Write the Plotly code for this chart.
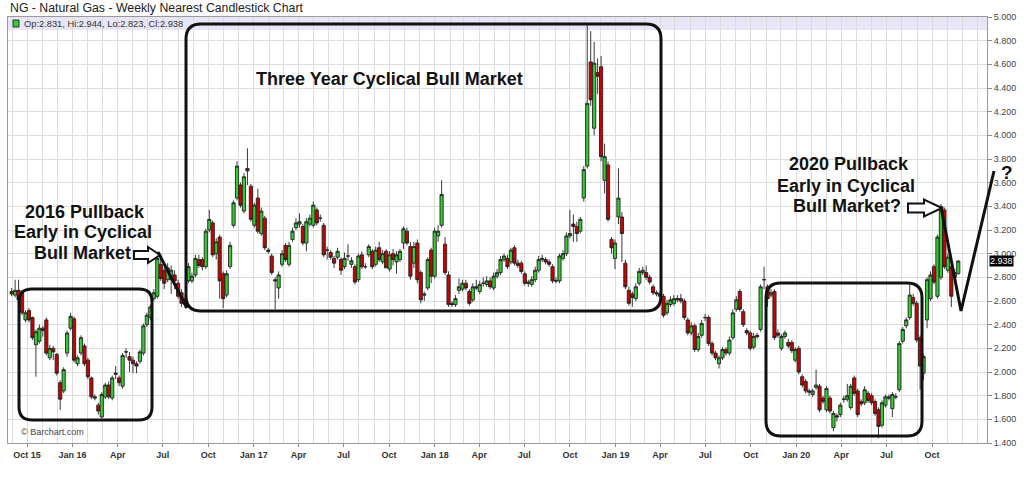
import plotly.graph_objects as go
import pandas as pd
from datetime import datetime, timedelta

TITLE = "NG - Natural Gas - Weekly Nearest Candlestick Chart"
FIRST_WEEK = "2015-08-31"

OPEN = [
    2.68, 2.65, 2.69, 2.67, 2.44, 2.52, 2.46, 2.23, 2.26, 2.37,
    2.44, 2.12, 2.20, 2.15, 1.91, 1.84, 2.16, 2.37, 2.45, 2.07,
    2.16, 2.22, 2.10, 1.95, 1.79, 1.72, 1.62, 1.79, 1.89, 1.78,
    1.98, 1.95, 1.88, 2.17, 2.13, 2.10, 2.07, 2.09, 2.16, 2.40,
    2.46, 2.62, 2.64, 2.91, 2.86, 2.78, 2.78, 2.82, 2.75, 2.67,
    2.62, 2.77, 2.77, 2.82, 2.95, 2.95, 2.89, 3.20, 3.26, 3.00,
    3.14, 2.83, 2.65, 2.89, 3.24, 3.47, 3.58, 3.36, 3.72, 3.57,
    3.24, 3.47, 3.17, 3.30, 3.03, 2.98, 2.78, 2.71, 2.91, 3.07,
    2.91, 3.12, 3.22, 3.25, 3.23, 3.09, 3.25, 3.24, 3.37, 3.30,
    3.24, 3.03, 3.01, 2.96, 2.97, 2.95, 2.89, 2.98, 2.91, 2.89,
    2.78, 2.99, 2.89, 2.99, 3.02, 2.91, 3.05, 2.93, 3.02, 2.87,
    3.00, 2.93, 2.95, 3.09, 3.19, 3.06, 2.92, 3.09, 2.84, 2.66,
    2.71, 3.03, 2.81, 3.15, 3.24, 3.08, 2.82, 2.58, 2.57, 2.69,
    2.70, 2.75, 2.68, 2.61, 2.72, 2.68, 2.75, 2.74, 2.77, 2.71,
    2.81, 2.84, 2.95, 2.96, 2.93, 3.05, 2.92, 2.92, 2.83, 2.76,
    2.74, 2.78, 2.86, 2.95, 2.95, 2.93, 2.89, 2.77, 2.77, 2.96,
    3.00, 3.15, 3.25, 3.23, 3.19, 3.47, 3.74, 4.62, 4.06, 4.53,
    4.58, 3.62, 3.75, 3.12, 2.96, 3.31, 3.31, 2.92, 2.69, 2.66,
    2.62, 2.75, 2.84, 2.84, 2.80, 2.72, 2.67, 2.66, 2.64, 2.50,
    2.57, 2.58, 2.61, 2.62, 2.60, 2.44, 2.33, 2.39, 2.19, 2.31,
    2.46, 2.46, 2.24, 2.16, 2.07, 2.12, 2.19, 2.16, 2.29, 2.53,
    2.68, 2.51, 2.35, 2.33, 2.21, 2.31, 2.36, 2.78, 2.72, 2.65,
    2.68, 2.33, 2.20, 2.30, 2.25, 2.25, 2.10, 2.20, 1.96, 1.92,
    1.84, 1.81, 1.87, 1.88, 1.78, 1.68, 1.78, 1.53, 1.63, 1.64,
    1.77, 1.77, 1.70, 1.95, 1.84, 1.75, 1.74, 1.82, 1.80, 1.75,
    1.68, 1.55, 1.72, 1.79, 1.69, 1.79, 1.85, 2.26, 2.39, 2.46,
    2.63, 2.58, 2.29, 1.99, 2.44, 2.62, 2.89, 2.64, 2.80, 3.37,
    2.86, 2.89, 2.80, 2.831,
]
HIGH = [
    2.71, 2.78, 2.78, 2.69, 2.52, 2.54, 2.47, 2.36, 2.40, 2.39,
    2.46, 2.23, 2.22, 2.16, 1.93, 2.04, 2.35, 2.50, 2.47, 2.14,
    2.31, 2.24, 2.12, 1.96, 1.81, 1.74, 1.83, 1.91, 1.92, 1.97,
    2.05, 1.97, 2.16, 2.20, 2.17, 2.13, 2.09, 2.19, 2.41, 2.50,
    2.57, 2.70, 2.99, 2.98, 2.90, 2.92, 2.90, 2.86, 2.78, 2.70,
    2.65, 2.92, 2.84, 2.99, 2.99, 2.97, 3.21, 3.37, 3.28, 3.13,
    3.16, 2.85, 2.86, 3.10, 3.45, 3.78, 3.60, 3.68, 3.89, 3.59,
    3.43, 3.55, 3.39, 3.32, 3.05, 3.00, 2.80, 2.85, 3.03, 3.09,
    3.10, 3.22, 3.30, 3.34, 3.25, 3.30, 3.33, 3.44, 3.39, 3.33,
    3.26, 3.06, 3.03, 2.98, 3.05, 2.97, 3.01, 3.08, 2.97, 2.91,
    3.00, 3.02, 2.92, 3.08, 3.04, 3.06, 3.10, 3.03, 3.04, 3.02,
    3.04, 3.02, 3.04, 3.23, 3.22, 3.10, 3.10, 3.12, 2.86, 2.68,
    2.97, 3.05, 3.22, 3.24, 3.62, 3.14, 2.85, 2.60, 2.65, 2.79,
    2.78, 2.78, 2.70, 2.75, 2.78, 2.77, 2.80, 2.81, 2.80, 2.84,
    2.87, 2.98, 3.00, 2.99, 3.05, 3.07, 2.95, 2.94, 2.85, 2.78,
    2.81, 2.89, 2.98, 2.99, 2.97, 2.95, 2.91, 2.80, 3.00, 3.03,
    3.18, 3.37, 3.33, 3.27, 3.31, 3.74, 4.93, 4.88, 4.79, 4.65,
    4.67, 3.93, 3.78, 3.14, 3.12, 3.72, 3.35, 2.95, 2.72, 2.68,
    2.75, 2.88, 2.89, 2.90, 2.82, 2.74, 2.69, 2.68, 2.66, 2.61,
    2.64, 2.65, 2.65, 2.66, 2.62, 2.46, 2.42, 2.41, 2.33, 2.44,
    2.49, 2.48, 2.26, 2.18, 2.14, 2.21, 2.21, 2.30, 2.53, 2.64,
    2.70, 2.53, 2.37, 2.35, 2.33, 2.33, 2.74, 2.89, 2.74, 2.70,
    2.70, 2.36, 2.32, 2.35, 2.28, 2.27, 2.21, 2.22, 1.98, 1.94,
    1.86, 1.86, 2.02, 1.90, 1.80, 1.88, 1.80, 1.67, 1.65, 1.74,
    1.80, 1.90, 1.90, 1.97, 1.86, 1.77, 1.88, 1.84, 1.82, 1.77,
    1.70, 1.76, 1.81, 1.81, 1.83, 1.82, 2.26, 2.38, 2.46, 2.74,
    2.66, 2.60, 2.31, 2.15, 2.80, 2.85, 2.91, 3.16, 3.42, 3.39,
    3.00, 2.91, 2.87, 2.944,
]
LOW = [
    2.64, 2.63, 2.59, 2.48, 2.42, 2.42, 2.27, 1.96, 2.24, 2.30,
    2.14, 2.10, 2.10, 1.97, 1.68, 1.82, 2.13, 2.35, 2.08, 2.05,
    2.14, 2.05, 1.94, 1.77, 1.76, 1.64, 1.61, 1.77, 1.77, 1.76,
    1.94, 1.88, 1.86, 2.12, 2.00, 1.99, 1.99, 2.07, 2.14, 2.38,
    2.44, 2.60, 2.62, 2.77, 2.70, 2.76, 2.66, 2.70, 2.62, 2.55,
    2.54, 2.75, 2.75, 2.80, 2.88, 2.86, 2.87, 3.18, 2.97, 2.95,
    2.62, 2.54, 2.63, 2.87, 3.22, 3.45, 3.39, 3.34, 3.58, 3.27,
    3.22, 3.17, 3.15, 3.03, 3.00, 2.82, 2.53, 2.62, 2.89, 2.93,
    2.89, 3.10, 3.20, 3.22, 3.07, 3.02, 3.23, 3.22, 3.24, 3.27,
    2.97, 2.95, 2.95, 2.88, 2.95, 2.82, 2.87, 2.94, 2.88, 2.74,
    2.76, 2.87, 2.87, 2.97, 2.87, 2.89, 2.93, 2.91, 2.88, 2.85,
    2.90, 2.83, 2.93, 3.04, 3.07, 2.78, 2.88, 2.75, 2.58, 2.60,
    2.69, 2.75, 2.79, 3.10, 3.22, 2.82, 2.55, 2.55, 2.55, 2.66,
    2.68, 2.69, 2.56, 2.59, 2.69, 2.66, 2.72, 2.72, 2.70, 2.69,
    2.79, 2.82, 2.93, 2.87, 2.91, 2.90, 2.88, 2.83, 2.73, 2.72,
    2.72, 2.76, 2.84, 2.93, 2.91, 2.89, 2.75, 2.75, 2.75, 2.94,
    2.98, 3.13, 3.10, 3.10, 3.17, 3.44, 3.72, 4.25, 4.00, 4.35,
    3.78, 3.51, 3.27, 3.00, 2.87, 3.25, 2.93, 2.70, 2.56, 2.55,
    2.60, 2.73, 2.82, 2.78, 2.74, 2.65, 2.64, 2.62, 2.46, 2.48,
    2.55, 2.56, 2.59, 2.58, 2.44, 2.31, 2.31, 2.17, 2.17, 2.29,
    2.43, 2.22, 2.14, 2.10, 2.03, 2.10, 2.14, 2.14, 2.27, 2.51,
    2.51, 2.38, 2.31, 2.18, 2.19, 2.28, 2.34, 2.70, 2.55, 2.63,
    2.27, 2.29, 2.18, 2.28, 2.20, 2.16, 2.08, 1.98, 1.87, 1.82,
    1.80, 1.79, 1.85, 1.66, 1.73, 1.66, 1.65, 1.50, 1.58, 1.62,
    1.74, 1.75, 1.68, 1.80, 1.62, 1.71, 1.72, 1.74, 1.72, 1.63,
    1.44, 1.53, 1.70, 1.76, 1.62, 1.77, 1.83, 2.24, 2.37, 2.44,
    2.56, 2.25, 1.85, 1.93, 2.37, 2.60, 2.74, 2.62, 2.78, 2.87,
    2.84, 2.55, 2.78, 2.823,
]
CLOSE = [
    2.66, 2.69, 2.61, 2.50, 2.50, 2.44, 2.29, 2.34, 2.37, 2.35,
    2.16, 2.20, 2.17, 1.99, 1.77, 2.02, 2.33, 2.47, 2.10, 2.12,
    2.29, 2.07, 1.96, 1.79, 1.78, 1.67, 1.81, 1.89, 1.79, 1.95,
    1.99, 1.91, 2.14, 2.17, 2.10, 2.07, 2.05, 2.17, 2.39, 2.48,
    2.55, 2.67, 2.96, 2.79, 2.75, 2.88, 2.86, 2.77, 2.64, 2.58,
    2.57, 2.89, 2.81, 2.96, 2.90, 2.89, 3.19, 3.29, 2.99, 3.10,
    2.77, 2.62, 2.83, 3.07, 3.43, 3.74, 3.41, 3.65, 3.70, 3.29,
    3.41, 3.19, 3.36, 3.05, 3.02, 2.84, 2.77, 2.82, 3.00, 2.95,
    3.07, 3.19, 3.26, 3.27, 3.09, 3.27, 3.30, 3.41, 3.26, 3.30,
    2.99, 3.03, 2.97, 2.92, 3.02, 2.86, 2.96, 2.98, 2.94, 2.76,
    2.98, 2.89, 2.89, 3.06, 2.89, 3.03, 2.95, 3.00, 2.88, 2.99,
    2.95, 2.99, 3.02, 3.21, 3.09, 2.81, 3.06, 2.78, 2.61, 2.65,
    2.95, 2.81, 3.19, 3.19, 3.50, 2.84, 2.57, 2.57, 2.62, 2.72,
    2.75, 2.71, 2.58, 2.72, 2.71, 2.74, 2.75, 2.77, 2.72, 2.81,
    2.84, 2.95, 2.98, 2.89, 3.03, 2.92, 2.90, 2.85, 2.75, 2.75,
    2.78, 2.86, 2.95, 2.96, 2.93, 2.91, 2.77, 2.77, 2.98, 3.00,
    3.15, 3.17, 3.23, 3.17, 3.29, 3.71, 4.27, 4.30, 4.61, 4.50,
    3.82, 3.82, 3.29, 3.05, 3.09, 3.47, 3.17, 2.72, 2.58, 2.63,
    2.72, 2.85, 2.86, 2.80, 2.76, 2.67, 2.66, 2.64, 2.48, 2.58,
    2.61, 2.62, 2.62, 2.60, 2.46, 2.33, 2.39, 2.19, 2.30, 2.41,
    2.46, 2.24, 2.16, 2.12, 2.12, 2.19, 2.16, 2.27, 2.50, 2.61,
    2.53, 2.40, 2.33, 2.20, 2.30, 2.30, 2.72, 2.78, 2.62, 2.67,
    2.29, 2.31, 2.30, 2.33, 2.22, 2.18, 2.19, 2.00, 1.89, 1.84,
    1.83, 1.84, 1.89, 1.68, 1.75, 1.86, 1.67, 1.65, 1.62, 1.72,
    1.77, 1.80, 1.88, 1.82, 1.64, 1.73, 1.85, 1.76, 1.74, 1.65,
    1.54, 1.74, 1.79, 1.78, 1.81, 1.79, 2.24, 2.36, 2.44, 2.65,
    2.58, 2.27, 2.05, 2.13, 2.78, 2.82, 2.76, 3.14, 3.40, 2.89,
    2.97, 2.64, 2.84, 2.938,
]

TICK_DATES = ["2015-10-01", "2016-01-01", "2016-04-01", "2016-07-01", "2016-10-01",
              "2017-01-01", "2017-04-01", "2017-07-01", "2017-10-01",
              "2018-01-01", "2018-04-01", "2018-07-01", "2018-10-01",
              "2019-01-01", "2019-04-01", "2019-07-01", "2019-10-01",
              "2020-01-01", "2020-04-01", "2020-07-01", "2020-10-01"]
TICK_LABELS = ["Oct 15", "Jan 16", "Apr", "Jul", "Oct", "Jan 17", "Apr", "Jul", "Oct",
               "Jan 18", "Apr", "Jul", "Oct", "Jan 19", "Apr", "Jul", "Oct",
               "Jan 20", "Apr", "Jul", "Oct"]
Y_MIN, Y_MAX, Y_STEP = 1.4, 5.0, 0.2

# ---------------- layout geometry (pixels) ----------------
W, H = 1024, 480
PL, PR, PT, PB = 8, 987, 17, 443
FONT = "Liberation Sans, Arial, Helvetica, sans-serif"
GREEN, RED = "#33cc33", "#cc0000"

weeks = pd.date_range(FIRST_WEEK, periods=len(CLOSE), freq="7D")

# x range so that Oct 2015 / Oct 2020 ticks land where the reference has them
d0, d1 = datetime(2015, 10, 1), datetime(2020, 10, 1)
xa, xb = 27.0, 932.0
per_px = (d1 - d0) / (xb - xa)
x_left = d0 - per_px * (xa - PL)
x_right = d1 + per_px * (PR - xb)

n_steps = int(round((Y_MAX - Y_MIN) / Y_STEP))
y_ticks = [round(Y_MIN + k * Y_STEP, 3) for k in range(n_steps + 1)]


def px(x):
    return (x - PL) / (PR - PL)


def py(y):
    return (PB - y) / (PB - PT)


def P(x, y):
    return f"{px(x):.5f},{py(y):.5f}"


def rrect(x0, y0, x1, y1, r):
    return (f"M{P(x0 + r, y0)} L{P(x1 - r, y0)} Q{P(x1, y0)} {P(x1, y0 + r)} "
            f"L{P(x1, y1 - r)} Q{P(x1, y1)} {P(x1 - r, y1)} L{P(x0 + r, y1)} "
            f"Q{P(x0, y1)} {P(x0, y1 - r)} L{P(x0, y0 + r)} Q{P(x0, y0)} {P(x0 + r, y0)} Z")


def block_arrow(xa_, xh, xt, yc, h1, h2):
    pts = [(xa_, yc - h1), (xh, yc - h1), (xh, yc - h2), (xt, yc),
           (xh, yc + h2), (xh, yc + h1), (xa_, yc + h1)]
    return "M" + " L".join(P(x, y) for x, y in pts) + " Z"


def polyline(pts):
    return "M" + " L".join(P(x, y) for x, y in pts)


fig = go.Figure(go.Candlestick(
    x=weeks, open=OPEN, high=HIGH, low=LOW, close=CLOSE,
    increasing=dict(fillcolor=GREEN, line=dict(color="#222222", width=0.9)),
    decreasing=dict(fillcolor=RED, line=dict(color="#222222", width=0.9)),
    whiskerwidth=0, showlegend=False, hoverinfo="skip",
))

shapes = []
# lavender band at top of plot
shapes.append(dict(type="rect", xref="paper", yref="paper", x0=0, x1=1, y0=py(30), y1=1,
                   fillcolor="#e6e6f7", line=dict(width=0), layer="below"))
# legend swatch
shapes.append(dict(type="rect", xref="paper", yref="paper", x0=px(13), x1=px(19), y0=py(27), y1=py(20),
                   fillcolor=GREEN, line=dict(color="#333", width=1)))
# rounded boxes
BOX = dict(color="#111", width=3)
shapes.append(dict(type="path", xref="paper", yref="paper", path=rrect(19, 289, 152, 420, 13), line=BOX))
shapes.append(dict(type="path", xref="paper", yref="paper", path=rrect(186, 24, 661, 311, 15), line=BOX))
shapes.append(dict(type="path", xref="paper", yref="paper", path=rrect(766, 283, 922, 436, 15), line=BOX))
# hollow arrows
shapes.append(dict(type="path", xref="paper", yref="paper", path=block_arrow(134, 148, 160, 255, 4, 8),
                   fillcolor="white", line=dict(color="#111", width=2)))
shapes.append(dict(type="path", xref="paper", yref="paper", path=block_arrow(908, 924, 942, 208, 4.5, 8.5),
                   fillcolor="white", line=dict(color="#111", width=2)))
# guide lines
shapes.append(dict(type="path", xref="paper", yref="paper",
                   path=polyline([(158, 252), (187, 308)]), line=dict(color="#111", width=3)))
shapes.append(dict(type="path", xref="paper", yref="paper",
                   path=polyline([(941, 207), (961, 311), (994, 171)]), line=dict(color="#111", width=3)))

ann = []


def text(x, y, s, size, bold=False, color="#111", xanchor="center"):
    ann.append(dict(xref="paper", yref="paper", x=px(x), y=py(y), text=f"<b>{s}</b>" if bold else s,
                    showarrow=False, xanchor=xanchor, yanchor="middle",
                    font=dict(family=FONT, size=size, color=color)))


text(8, 8.5, TITLE, 12.3, color="#222", xanchor="left")
legend_txt = f"Op:{OPEN[-1]:.3f}, Hi:{HIGH[-1]:.3f}, Lo:{LOW[-1]:.3f}, Cl:{CLOSE[-1]:.3f}"
text(22, 24, legend_txt, 9.3, color="#333", xanchor="left")
text(19, 432, "© Barchart.com", 9, color="#444", xanchor="left")

text(389, 79, "Three Year Cyclical Bull Market", 18, bold=True)
text(85, 212, "2016 Pullback", 18, bold=True)
text(83, 232, "Early in Cyclical", 18, bold=True)
text(82, 253, "Bull Market", 18, bold=True)
text(849, 164, "2020 Pullback", 18, bold=True)
text(846, 186, "Early in Cyclical", 18, bold=True)
text(847, 206, "Bull Market?", 18, bold=True)
text(1007, 172, "?", 19, bold=True)

# last price flag on the right axis
ann.append(dict(xref="paper", yref="y", x=px(989), y=CLOSE[-1], text=f"{CLOSE[-1]:.3f}",
                showarrow=False, xanchor="left", yanchor="middle", bgcolor="#000",
                borderpad=0, font=dict(family=FONT, size=9, color="#fff")))

fig.update_layout(
    width=W, height=H,
    margin=dict(l=PL, r=W - PR, t=PT, b=H - PB, pad=0),
    paper_bgcolor="white", plot_bgcolor="white",
    shapes=shapes, annotations=ann, hovermode=False,
    boxgap=0.08, boxgroupgap=0.0,
    xaxis=dict(
        type="date", range=[x_left, x_right], rangeslider=dict(visible=False),
        tickmode="array", tickvals=TICK_DATES, ticktext=[f"<b>{t}</b>" for t in TICK_LABELS],
        tickfont=dict(family=FONT, size=9, color="#333"),
        ticks="outside", ticklen=3, tickcolor="#888",
        showgrid=True, gridcolor="#dcdcdc", gridwidth=1,
        minor=dict(dtick="M1", tick0="2015-01-01", showgrid=True, gridcolor="#dcdcdc", ticks=""),
        showline=True, linecolor="#9a9a9a", mirror=True, zeroline=False,
    ),
    yaxis=dict(
        side="right", range=[Y_MIN, Y_MAX], tickmode="array", tickvals=y_ticks,
        ticktext=[f"{v:.3f}" for v in y_ticks],
        tickfont=dict(family=FONT, size=9, color="#444"),
        ticks="outside", ticklen=4, tickcolor="#888",
        showgrid=True, gridcolor="#dcdcdc", gridwidth=1,
        showline=True, linecolor="#9a9a9a", mirror=True, zeroline=False,
    ),
)

fig.write_html("out.html", config={"displayModeBar": False},
               post_script="document.body.style.margin='0';document.body.style.overflow='hidden';")
